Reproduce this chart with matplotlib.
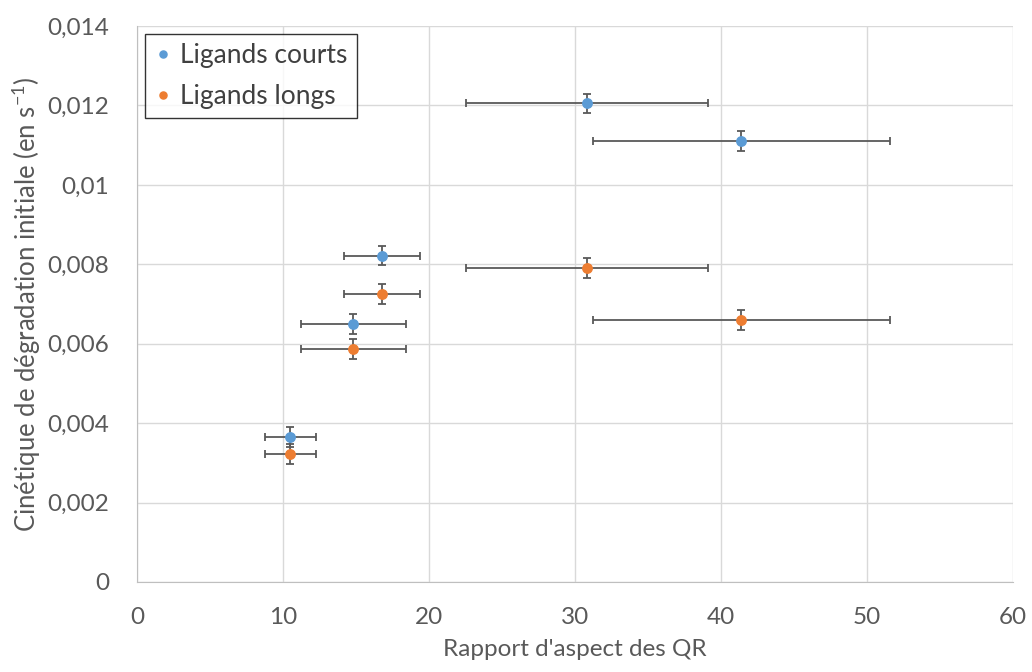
import numpy as np
import matplotlib.pyplot as plt
from matplotlib.ticker import FuncFormatter

plt.rcParams['font.family'] = ['Lato', 'DejaVu Sans']

# rapport d'aspect et incertitudes
x = [10.5, 14.8, 16.8, 30.8, 41.4]
x_err = [1.75, 3.6, 2.6, 8.3, 10.2]
courts = [0.00366, 0.0065, 0.00822, 0.01205, 0.0111]
longs = [0.00323, 0.00586, 0.00726, 0.0079, 0.0066]
y_err = [0.00025, 0.00025, 0.00025, 0.00025, 0.00025]

fig = plt.figure(figsize=(10.32, 6.72), dpi=100)
ax = fig.add_axes([0.1328, 1 - 582 / 672, 0.8488, (582 - 26) / 672])

ax.errorbar(x, courts, xerr=x_err, yerr=y_err, fmt='o', color='#5b9bd5',
            ecolor='#595959', elinewidth=1.3, capsize=3, capthick=1.3,
            markersize=6.8, label='Ligands courts', zorder=3)
ax.errorbar(x, longs, xerr=x_err, yerr=y_err, fmt='o', color='#ed7d31',
            ecolor='#595959', elinewidth=1.3, capsize=3, capthick=1.3,
            markersize=6.8, label='Ligands longs', zorder=3)

ax.set_xlim(0, 60)
ax.set_ylim(0, 0.014)
ax.set_xticks(np.arange(0, 61, 10))
ax.set_yticks(np.arange(0, 0.0141, 0.002))
ax.yaxis.set_major_formatter(FuncFormatter(
    lambda v, p: '0' if abs(v) < 1e-12 else ('%g' % round(v, 4)).replace('.', ',')))
ax.grid(True, color='#d9d9d9', linewidth=1)
ax.set_axisbelow(True)
for s in ['top', 'right']:
    ax.spines[s].set_visible(False)
for s in ['left', 'bottom']:
    ax.spines[s].set_color('#bfbfbf')
ax.tick_params(axis='y', length=0, labelsize=17.5, colors='#595959', pad=20)
ax.tick_params(axis='x', length=0, labelsize=17.5, colors='#595959', pad=18)

ax.set_xlabel("Rapport d'aspect des QR", fontsize=17.5, color='#595959',
              labelpad=8)
ax.set_ylabel("Cinétique de dégradation initiale (en s$^{\\mathregular{-1}}$)",
              fontsize=18.5, color='#595959', labelpad=3)

# legend handles without error bars
h, l = ax.get_legend_handles_labels()
h = [hh[0] for hh in h]
leg = ax.legend(h, l, loc='upper left', fontsize=19, frameon=True, fancybox=False,
                edgecolor='black', handletextpad=0.28, markerscale=0.75,
                borderaxespad=0.3, labelspacing=0.6, handlelength=0.7,
                borderpad=0.35, labelcolor='#404040')
leg.get_frame().set_linewidth(1)

fig.savefig('out.png', dpi=100)
